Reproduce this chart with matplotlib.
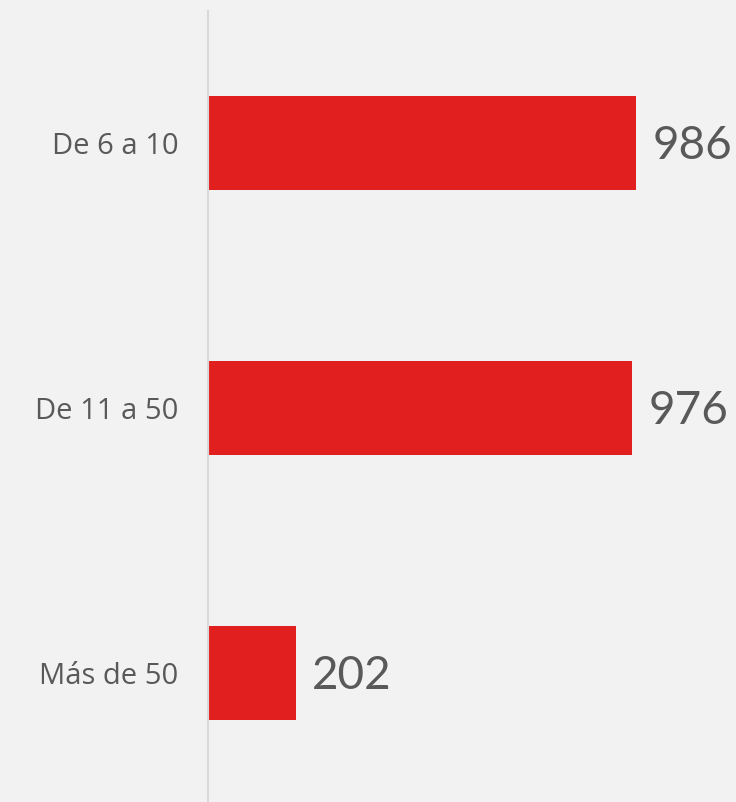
import matplotlib
matplotlib.use("Agg")
import matplotlib.pyplot as plt

categories = ["De 6 a 10", "De 11 a 50", "Más de 50"]
values = [986, 976, 202]

BG = "#f2f2f2"
RED = "#e21f1f"
GREY = "#595959"

fig = plt.figure(figsize=(7.36, 8.02), dpi=100, facecolor=BG)
ax = fig.add_axes([208 / 736, -3.5 / 802, 528 / 736, 795 / 802], facecolor=BG)

ypos = list(range(len(categories)))
ax.barh(ypos, values, height=0.355, color=RED, zorder=2)
ax.set_ylim(len(categories) - 0.5, -0.5)
ax.set_xlim(0, 1216)

for y, v in zip(ypos, values):
    ax.text(v + 38, y + 0.012, f"{v}", va="center", ha="left", fontsize=33,
            color=GREY, family="Lato")

ax.set_yticks(ypos)
ax.set_yticklabels(categories, fontsize=21, color=GREY, family="Open Sans")
ax.tick_params(axis="y", length=0, pad=21.5)
ax.set_xticks([])
for s in ["top", "right", "bottom"]:
    ax.spines[s].set_visible(False)
ax.spines["left"].set_color("#d9d9d9")
ax.spines["left"].set_linewidth(1.5)

fig.savefig("out.png", dpi=100, facecolor=BG)
